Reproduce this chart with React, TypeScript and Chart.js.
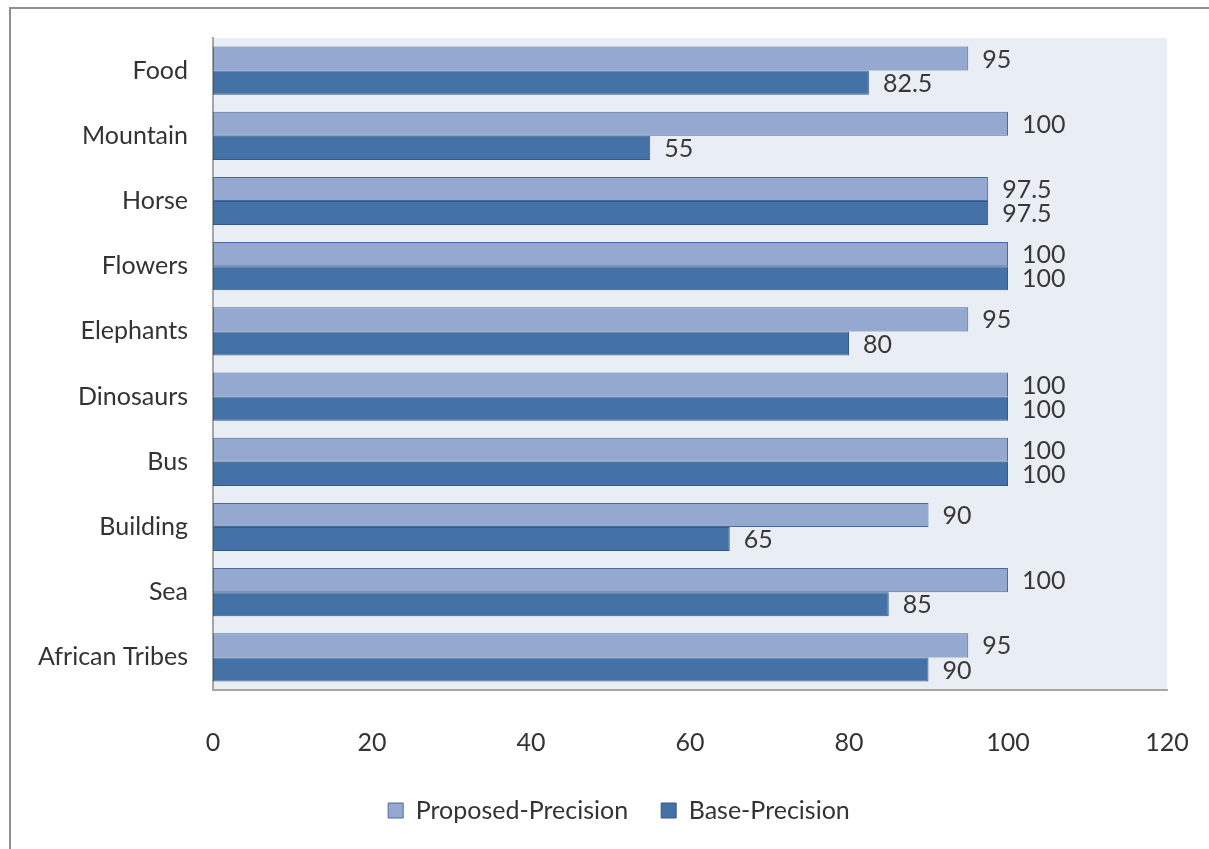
import React, { useEffect, useRef } from "react";
import { Chart, registerables } from "chart.js";

Chart.register(...registerables);

const categories = ["Food", "Mountain", "Horse", "Flowers", "Elephants", "Dinosaurs", "Bus", "Building", "Sea", "African Tribes"];
const proposedPrecision = [95, 100, 97.5, 100, 95, 100, 100, 90, 100, 95];
const basePrecision = [82.5, 55, 97.5, 100, 80, 100, 100, 65, 85, 90];
const xTicks = [0, 20, 40, 60, 80, 100, 120];

const FONT = "Lato, 'Open Sans', sans-serif";
const FS = 25;

export default function App() {
  const ref = useRef<HTMLCanvasElement>(null);
  useEffect(() => {
    if (!ref.current) return;
    const bgPlugin = {
      id: "bg",
      afterLayout(chart: any) {
        if (chart.legend) chart.legend.left = 71;
      },
      beforeDraw(chart: any) {
        const { ctx, chartArea } = chart;
        ctx.save();
        ctx.fillStyle = "#E9EDF4";
        ctx.fillRect(chartArea.left, chartArea.top, chartArea.right - chartArea.left, chartArea.bottom - chartArea.top);
        ctx.restore();
      },
    };
    const labelPlugin = {
      id: "vals",
      afterDatasetsDraw(chart: any) {
        const { ctx } = chart;
        ctx.save();
        ctx.font = `${FS}px ${FONT}`;
        ctx.fillStyle = "#383838";
        ctx.textAlign = "left";
        ctx.textBaseline = "middle";
        chart.data.datasets.forEach((ds: any, di: number) => {
          const meta = chart.getDatasetMeta(di);
          meta.data.forEach((bar: any, i: number) => {
            ctx.fillText(String(ds.data[i]), bar.x + 14, bar.y + 1);
          });
        });
        ctx.restore();
      },
    };
    const chart = new Chart(ref.current, {
      type: "bar",
      data: {
        labels: categories,
        datasets: [
          {
            label: "Proposed-Precision",
            data: proposedPrecision,
            backgroundColor: "#95A9D0",
            borderColor: "#4A6B9E",
            borderWidth: 1,
            borderSkipped: false,
          },
          {
            label: "Base-Precision",
            data: basePrecision,
            backgroundColor: "#4472A7",
            borderColor: "#34598A",
            borderWidth: 1,
            borderSkipped: false,
          },
        ],
      },
      options: {
        indexAxis: "y",
        animation: false,
        responsive: false,
        layout: { padding: { top: 38, right: 42, left: 0, bottom: 16 } },
        datasets: { bar: { categoryPercentage: 0.74, barPercentage: 1 } },
        scales: {
          x: {
            min: 0,
            max: 120,
            afterBuildTicks(axis: any) {
              axis.ticks = xTicks.map((v) => ({ value: v }));
            },
            afterFit(axis: any) {
              axis.height = 75;
              axis.paddingLeft = 0;
              axis.paddingRight = 0;
            },
            grid: { display: false, drawTicks: false },
            border: { display: true, color: "#A6A6A6", width: 2 },
            ticks: { padding: 38, color: "#333333", font: { size: FS, family: FONT } },
          },
          y: {
            afterFit(axis: any) {
              axis.width = 213;
              axis.paddingTop = 0;
              axis.paddingBottom = 0;
            },
            grid: { display: false, drawTicks: false },
            border: { display: true, color: "#A6A6A6", width: 2 },
            ticks: { padding: 25, color: "#333333", font: { size: FS, family: FONT } },
          },
        },
        plugins: {
          legend: {
            position: "bottom",
            labels: {
              boxWidth: 15,
              boxHeight: 15,
              padding: 33,
              color: "#333333",
              font: { size: FS, family: FONT },
            },
          },
          tooltip: { enabled: false },
        },
      },
      plugins: [bgPlugin, labelPlugin],
    });
    return () => chart.destroy();
  }, []);
  return (
    <div style={{ position: "absolute", left: 0, top: 0, width: 1209, height: 849, background: "#fff", overflow: "hidden" }}>
      <div style={{ position: "absolute", left: 9, top: 7, width: 1300, height: 900, borderLeft: "2px solid #8F8F8F", borderTop: "2px solid #8F8F8F" }} />
      <canvas ref={ref} width={1209} height={849} style={{ position: "absolute", left: 0, top: 0 }} />
    </div>
  );
}
